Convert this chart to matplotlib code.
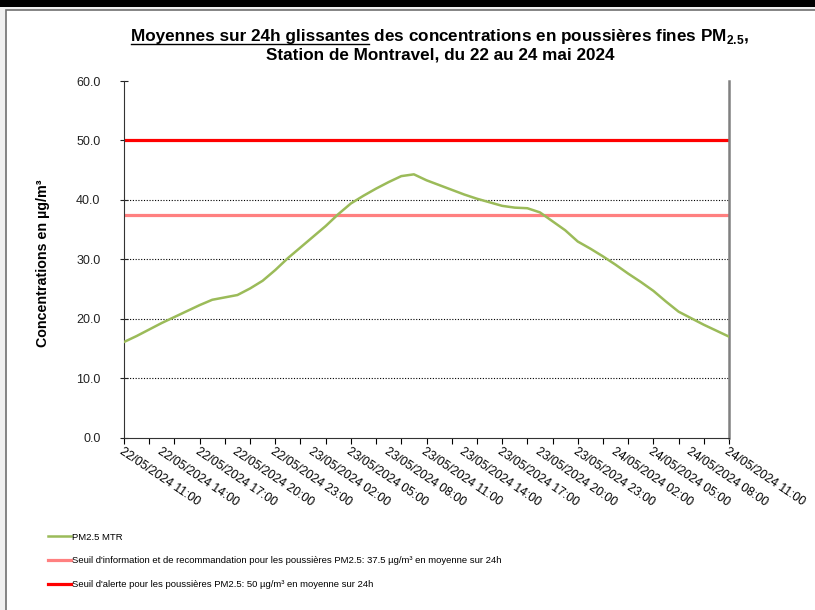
import numpy as np
import matplotlib
matplotlib.use("Agg")
import matplotlib.pyplot as plt
from matplotlib.patches import Rectangle
from matplotlib.lines import Line2D
from matplotlib.ticker import FixedLocator, FormatStrFormatter

plt.rcParams['font.family'] = ['Liberation Sans', 'DejaVu Sans']
plt.rcParams['mathtext.fontset'] = 'custom'
plt.rcParams['mathtext.rm'] = 'Liberation Sans'
plt.rcParams['mathtext.bf'] = 'Liberation Sans:bold'

# hourly 24h rolling means, 22/05/2024 11:00 -> 24/05/2024 11:00
hours = np.arange(49)
pm25 = [16.1, 17.1, 18.2, 19.3, 20.3, 21.3, 22.3, 23.2, 23.6, 24.0,
        25.1, 26.4, 28.2, 30.2, 32.0, 33.8, 35.6, 37.6, 39.4, 40.7,
        41.9, 43.0, 44.0, 44.3, 43.3, 42.5, 41.7, 40.9, 40.2, 39.6,
        39.0, 38.7, 38.6, 37.9, 36.4, 34.9, 33.0, 31.8, 30.5, 29.1,
        27.6, 26.2, 24.7, 22.9, 21.2, 20.1, 19.0, 18.0, 17.0]
seuil_info = 37.5
seuil_alerte = 50.0

tick_labels = ["22/05/2024 11:00", "22/05/2024 14:00", "22/05/2024 17:00",
               "22/05/2024 20:00", "22/05/2024 23:00", "23/05/2024 02:00",
               "23/05/2024 05:00", "23/05/2024 08:00", "23/05/2024 11:00",
               "23/05/2024 14:00", "23/05/2024 17:00", "23/05/2024 20:00",
               "23/05/2024 23:00", "24/05/2024 02:00", "24/05/2024 05:00",
               "24/05/2024 08:00", "24/05/2024 11:00"]

W, H = 815, 610
fig = plt.figure(figsize=(W / 100, H / 100), dpi=100, facecolor='#f0f0f0')

# chart frame and top black band
fig.patches.append(Rectangle((6 / W, -0.05), 1.0, 1 - 10 / H + 0.05, transform=fig.transFigure,
                             facecolor='white', edgecolor='#707070', lw=1.2, zorder=-2))
fig.patches.append(Rectangle((0, 1 - 7 / H), 1, 7 / H + 0.01, transform=fig.transFigure,
                             facecolor='black', edgecolor='none', zorder=-1))

ax = fig.add_axes([124 / W, 1 - 437.7 / H, (729 - 124) / W, (437.7 - 81) / H])
ax.set_zorder(2)
ax.set_facecolor('white')

for y in [10, 20, 30, 40, 50]:
    ax.axhline(y, color='black', lw=0.8, ls=(0, (1, 1.5)), zorder=1)

ax.plot(hours, [seuil_info] * len(hours), color='#ff8080', lw=2.3, zorder=2,
        label="Seuil d'information et de recommandation pour les poussières PM2.5: 37.5 µg/m³ en moyenne sur 24h")
ax.plot(hours, [seuil_alerte] * len(hours), color='#ff0000', lw=2.3, zorder=2,
        label="Seuil d'alerte pour les poussières PM2.5: 50 µg/m³ en moyenne sur 24h")
ax.plot(hours, pm25, color='#9bbb59', lw=1.8, zorder=3, label='PM2.5 MTR')

ax.set_xlim(0, 48)
ax.set_ylim(0, 60)
ax.set_yticks(np.arange(0, 61, 10))
ax.yaxis.set_major_formatter(FormatStrFormatter('%.1f'))
ax.tick_params(axis='y', direction='inout', length=6, width=0.8, labelsize=9, pad=14, colors='#222222')

ax.xaxis.remove_overlapping_locs = False
ax.set_xticks(np.arange(0, 49, 3))
ax.set_xticklabels(tick_labels, rotation=-34, ha='left', va='top', rotation_mode='anchor')
ax.xaxis.set_minor_locator(FixedLocator(np.arange(0, 49, 2)))
ax.tick_params(axis='x', which='major', length=0, labelsize=8.8, pad=6)
ax.tick_params(axis='x', which='minor', length=4, width=0.8, direction='out')

ax.spines['top'].set_visible(False)
ax.spines['right'].set_color('#808080')
ax.spines['right'].set_linewidth(1.8)
ax.spines['left'].set_color('#333333')
ax.spines['bottom'].set_color('#333333')

ax.set_ylabel('Concentrations en µg/m³', fontsize=10.3, fontweight='bold')
ax.yaxis.set_label_coords((50 - 124) / 605, 0.49)

# title, first part underlined
fs = 12.3
cx = 440 / W
y1 = 1 - 41 / H
tA = fig.text(0, y1, 'Moyennes sur 24h glissantes', fontsize=fs, fontweight='bold', ha='left', va='baseline')
tB = fig.text(0, y1, r' des concentrations en poussières fines PM$_{\mathbf{2.5}}$,', fontsize=fs,
              fontweight='bold', ha='left', va='baseline')
fig.text(cx, 1 - 60 / H, 'Station de Montravel, du 22 au 24 mai 2024', fontsize=fs,
         fontweight='bold', ha='center', va='baseline')
fig.canvas.draw()
r = fig.canvas.get_renderer()
wA = tA.get_window_extent(r).width / W
wB = tB.get_window_extent(r).width / W
x0 = cx - (wA + wB) / 2
tA.set_x(x0)
tB.set_x(x0 + wA)
fig.lines.append(Line2D([x0, x0 + wA], [y1 - 2.5 / H, y1 - 2.5 / H], transform=fig.transFigure,
                        color='black', lw=1))

handles, labels = ax.get_legend_handles_labels()
order = [2, 0, 1]
fig.legend([handles[i] for i in order], [labels[i] for i in order], loc='upper left',
           bbox_to_anchor=(44 / W, 1 - 529 / H), frameon=False, fontsize=6.8,
           handlelength=2.5, handletextpad=0.1, labelspacing=1.55, borderaxespad=0)

fig.savefig('out.png', dpi=100, facecolor=fig.get_facecolor())
